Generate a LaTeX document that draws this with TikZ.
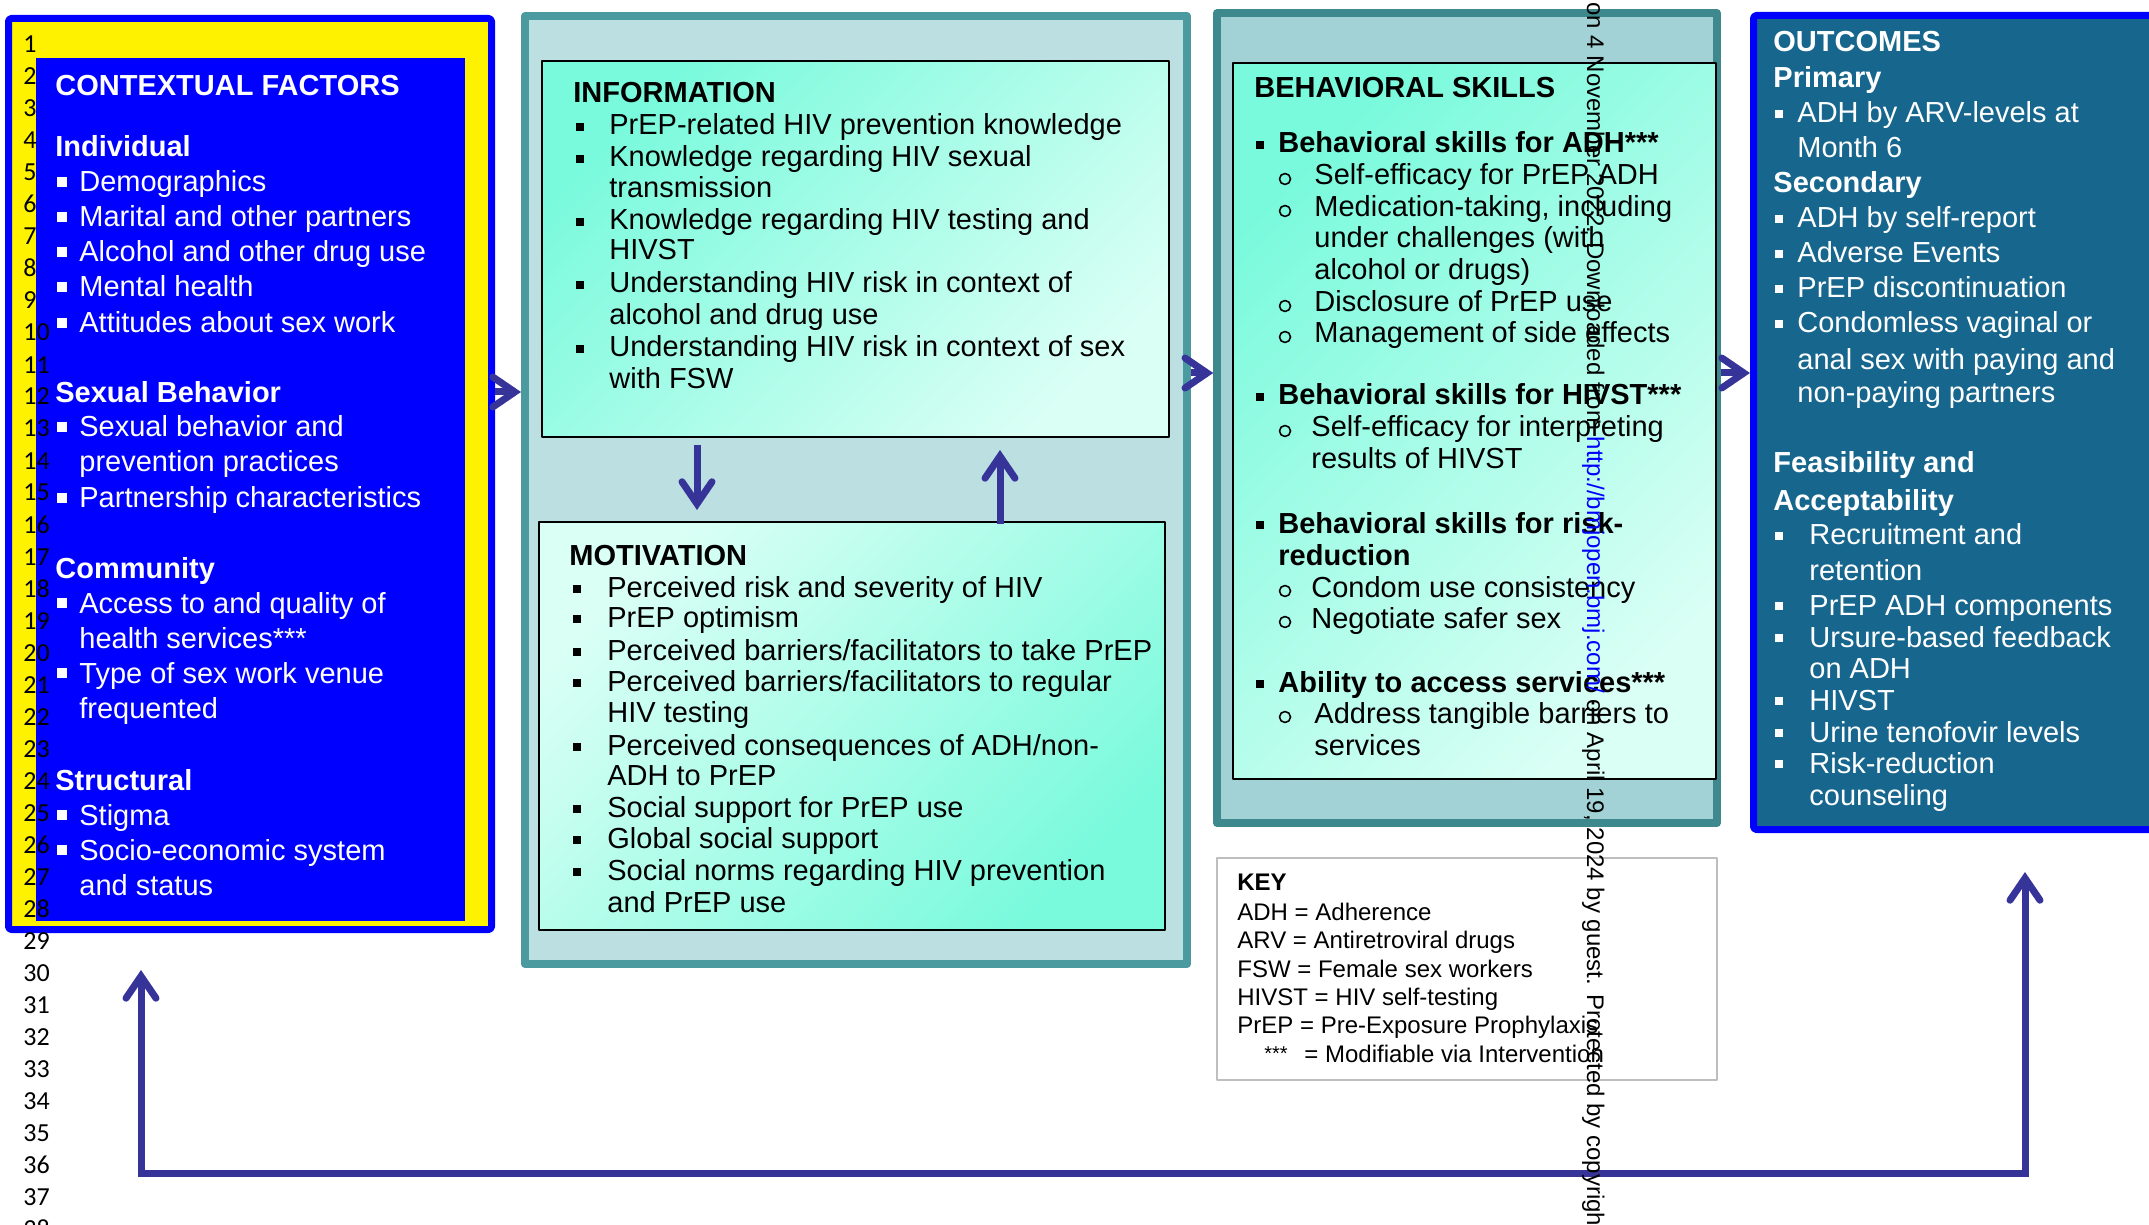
\documentclass[tikz,border=0pt]{standalone}
\usepackage{fontspec}
\setmainfont{Liberation Sans}
\newfontfamily\numfont{Carlito}
\usetikzlibrary{arrows.meta,fit}
\definecolor{ctxblue}{RGB}{0,0,255}
\definecolor{arrowc}{RGB}{54,52,152}
\definecolor{midframe}{RGB}{74,154,160}
\definecolor{midfill}{RGB}{188,223,226}
\definecolor{behframe}{RGB}{62,137,141}
\definecolor{behfill}{RGB}{162,210,214}
\definecolor{aquadeep}{RGB}{122,250,220}
\definecolor{aqualite}{RGB}{218,255,245}
\definecolor{outfill}{RGB}{23,102,141}
\definecolor{keygray}{RGB}{190,190,190}
\begin{document}
\begin{tikzpicture}[x=0.5pt,y=-0.5pt,line join=round,
    >={Straight Barb[length=11pt,width=15pt,line cap=round]},
    box/.style={inner sep=0pt},
    wtxt/.style={anchor=base west,inner sep=0pt,text=white,font=\fontsize{14.5}{17}\selectfont},
    btxt/.style={anchor=base west,inner sep=0pt,font=\fontsize{14.5}{17}\selectfont},
    ktxt/.style={anchor=base west,inner sep=0pt,font=\fontsize{12}{14}\selectfont},
    lnum/.style={anchor=base west,inner sep=0pt,font=\numfont\fontsize{13}{15}\selectfont},
    flow/.style={draw=arrowc,line width=3.5pt}]
    \useasboundingbox (0,0) rectangle (2149,1225);
    \clip (0,0) rectangle (2149,1225);
    % boxes
    \node[box,fit={(8.5,18.5) (491.5,929.5)},draw=ctxblue,fill=yellow,line width=3.5pt,rounded corners=1.5pt] (ctx) {};
    \fill[ctxblue] (36,58) rectangle (465,921);
    \node[box,fit={(525,16) (1187,964)},draw=midframe,fill=midfill,line width=4pt] (mid) {};
    \node[box,fit={(542,61) (1169,437)},draw,line width=1pt,top color=aquadeep,bottom color=aqualite,shading angle=45] (info) {};
    \node[box,fit={(539,522) (1165,930)},draw,line width=1pt,top color=aqualite,bottom color=aquadeep,shading angle=45] (mot) {};
    \node[box,fit={(1217,13) (1717,823)},draw=behframe,fill=behfill,line width=3.75pt] (beh) {};
    \node[box,fit={(1233,63) (1716,779)},draw,line width=1.2pt,top color=aquadeep,bottom color=aqualite,shading angle=45] (skills) {};
    \node[box,fit={(1753.5,15.5) (2175,829.5)},draw=ctxblue,fill=outfill,line width=3.5pt,rounded corners=1.5pt] (out) {};
    \node[box,fit={(1217,858) (1717,1080)},draw=keygray,line width=0.75pt] (key) {};
    % arrows
    \coordinate (r1) at (0,392);
    \coordinate (r2) at (0,373);
    \coordinate (dn) at (697,0);
    \coordinate (up) at (1000,0);
    \coordinate (lp) at (141,1173);
    \coordinate (rp) at (2025,1173);
    \draw[flow,->] (ctx.east |- r1) -- (mid.west |- r1);
    \draw[flow,->] (mid.east |- r2) -- (beh.west |- r2);
    \draw[flow,->] (beh.east |- r2) -- (out.west |- r2);
    \draw[flow,->,shorten <=3.5pt,shorten >=5.5pt] (info.south -| dn) -- (mot.north -| dn);
    \draw[flow,->,shorten <=-1.5pt,shorten >=6pt] (mot.north -| up) -- (info.south -| up);
    \draw[flow,<->,line join=miter,shorten <=18.5pt,shorten >=19.5pt] (ctx.south -| lp) -- (lp) -- (rp) -- (out.south -| rp);
    % contextual factors
    \foreach \x/\y/\t [count=\i] in {55/96/{\bfseries CONTEXTUAL FACTORS},55/157/{\bfseries Individual},
        79/192/Demographics,79/227/Marital and other partners,79/262/Alcohol and other drug use,
        79/297/Mental health,79/333/Attitudes about sex work,55/403/{\bfseries Sexual Behavior},
        79/437/Sexual behavior and,79/472/prevention practices,79/508/Partnership characteristics,
        55/578/{\bfseries Community},79/613/Access to and quality of,79/648/health services***,
        79/683/Type of sex work venue,79/718/frequented,55/790/{\bfseries Structural},
        79/825/Stigma,79/860/Socio-economic system,79/895/and status}
        \node[wtxt] (ctx\i) at (\x,\y) {\t};
    \foreach \y in {192,227,262,297,333,437,508,613,683,825,860}
        \fill[white] (57,\y-5) rectangle +(10,-10);
    % information
    \foreach \x/\y/\t [count=\i] in {573/103/{\bfseries INFORMATION},
        609/135/PrEP-related HIV prevention knowledge,609/167/Knowledge regarding HIV sexual,
        609/198/transmission,609/230/Knowledge regarding HIV testing and,609/260/HIVST,
        609/293/Understanding HIV risk in context of,609/325/alcohol and drug use,
        609/357/Understanding HIV risk in context of sex,609/388/with FSW}
        \node[btxt] (inf\i) at (\x,\y) {\t};
    \foreach \y in {135,167,230,293,357}
        \fill (576,\y-4) rectangle +(8,-8);
    % motivation
    \foreach \x/\y/\t [count=\i] in {569/565/{\bfseries MOTIVATION},
        607/597/Perceived risk and severity of HIV,607/627/PrEP optimism,
        607/660/{Perceived barriers/facilitators to take PrEP},
        607/691/{Perceived barriers/facilitators to regular},607/722/HIV testing,
        607/755/{Perceived consequences of ADH/non-},607/785/ADH to PrEP,
        607/817/Social support for PrEP use,607/848/Global social support,
        607/880/Social norms regarding HIV prevention,607/912/and PrEP use}
        \node[btxt] (mot\i) at (\x,\y) {\t};
    \foreach \y in {597,627,660,691,755,817,848,880}
        \fill (573,\y-4) rectangle +(8,-8);
    % behavioral skills
    \foreach \x/\y/\t [count=\i] in {1254/98/{\bfseries BEHAVIORAL SKILLS},
        1278/153/{\bfseries Behavioral skills for ADH***},1314/185/Self-efficacy for PrEP ADH,
        1314/217/{Medication-taking, including},1314/248/under challenges (with,
        1314/280/alcohol or drugs),1314/312/Disclosure of PrEP use,1314/343/Management of side effects,
        1278/405/{\bfseries Behavioral skills for HIVST***},1311/437/Self-efficacy for interpreting,
        1311/468/results of HIVST,1278/533/{\bfseries Behavioral skills for risk-},
        1278/565/{\bfseries reduction},1311/597/Condom use consistency,1311/628/Negotiate safer sex,
        1278/692/{\bfseries Ability to access services***},1314/723/Address tangible barriers to,
        1314/755/services}
        \node[btxt] (bs\i) at (\x,\y) {\t};
    \foreach \y in {153,405,533,692}
        \fill (1256,\y-4) rectangle +(8,-8);
    \foreach \y in {185,217,312,343,437,597,628,723}
        \draw[line width=0.8pt] (1285,\y-6) circle (5.5);
    % outcomes
    \foreach \x/\y/\t [count=\i] in {1773/52/{\bfseries OUTCOMES},1773/88/{\bfseries Primary},
        1797/123/ADH by ARV-levels at,1797/158/Month 6,1773/193/{\bfseries Secondary},
        1797/228/ADH by self-report,1797/263/Adverse Events,1797/298/PrEP discontinuation,
        1797/333/Condomless vaginal or,1797/370/anal sex with paying and,1797/403/non-paying partners,
        1773/473/{\bfseries Feasibility and},1773/510/{\bfseries Acceptability},
        1809/545/Recruitment and,1809/580/retention,1809/615/PrEP ADH components,
        1809/647/Ursure-based feedback,1809/678/on ADH,1809/710/HIVST,
        1809/742/Urine tenofovir levels,1809/773/Risk-reduction,1809/805/counseling}
        \node[wtxt] (oc\i) at (\x,\y) {\t};
    \foreach \y in {123,228,263,298,333,545,615,647,710,742,773}
        \fill[white] (1775,\y-5) rectangle +(8,-8);
    % key
    \foreach \y/\t [count=\i] in {890/{\bfseries KEY},920/ADH = Adherence,948/ARV = Antiretroviral drugs,
        977/FSW = Female sex workers,1005/HIVST = HIV self-testing,1033/PrEP = Pre-Exposure Prophylaxis}
        \node[ktxt] (key\i) at (1237,\y) {\t};
    \node[ktxt,font=\fontsize{10}{12}\selectfont] (stars) at (1264,1060) {***};
    \node[ktxt] (keydef) at (1304,1062) {= Modifiable via Intervention};
    % margin note
    \node[anchor=base west,inner sep=0pt,rotate=-90,font=\fontsize{12}{14}\selectfont] (wm) at (1587,2)
        {on 4 November 2022. Downloaded from \textcolor{ctxblue}{http://bmjopen.bmj.com/} on April 19, 2024 by guest. Protected by copyright.};
    % line numbers
    \foreach \n in {1,...,38}
        \node[lnum] (ln\n) at (23,{53+(\n-1)*32}) {\n};
\end{tikzpicture}
\end{document}
